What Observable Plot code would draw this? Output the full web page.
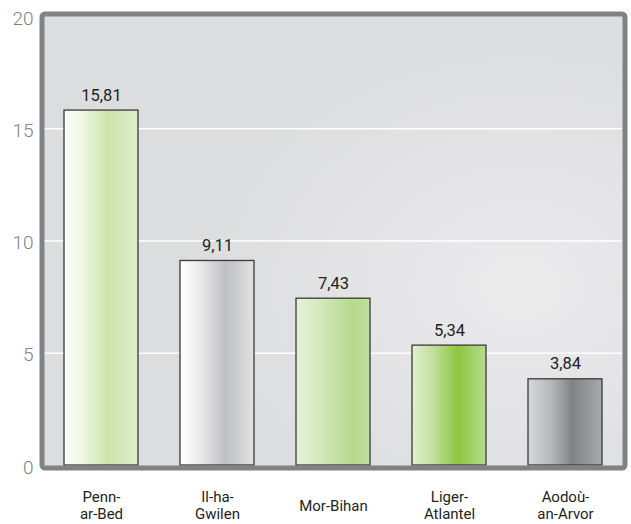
<!DOCTYPE html>
<html><head><meta charset="utf-8">
<script src="https://cdn.jsdelivr.net/npm/d3@7"></script>
<script src="https://cdn.jsdelivr.net/npm/@observablehq/plot@0.6"></script>
<style>body{margin:0;background:#fff;} #chart svg{display:block;}</style>
</head><body><div id="chart"></div>
<script>
const categories = ["Penn-ar-Bed", "Il-ha-Gwilen", "Mor-Bihan", "Liger-Atlantel", "Aodoù-an-Arvor"];
const tickLabels = ["Penn-\nar-Bed", "Il-ha-\nGwilen", "Mor-Bihan", "Liger-\nAtlantel", "Aodoù-\nan-Arvor"];
const values = [15.81, 9.11, 7.43, 5.34, 3.84];
const valueLabels = ["15,81", "9,11", "7,43", "5,34", "3,84"];
const yTicks = [0, 5, 10, 15, 20];

// gradient styles for each bar (offset, color)
const barGradients = [
  [[0, "#ffffff"], [0.25, "#eef6e4"], [0.6, "#cce4ab"], [1, "#e0eecd"]],
  [[0, "#ffffff"], [0.25, "#ececed"], [0.62, "#bfc0c2"], [1, "#e2e2e3"]],
  [[0, "#e7f2da"], [0.35, "#d3e8ba"], [0.75, "#b6d98c"], [1, "#c2df9f"]],
  [[0, "#e2f0d0"], [0.3, "#c0df9a"], [0.62, "#8cc63f"], [1, "#b8db8f"]],
  [[0, "#d6d7d9"], [0.3, "#b8b9bb"], [0.6, "#808285"], [1, "#a9aaac"]]
];

const data = categories.map((c, i) => ({
  region: c, value: values[i], label: valueLabels[i], grad: `url(#bar${i})`
}));

const defsMark = () => {
  const defs = d3.create("svg:defs");
  barGradients.forEach((stops, i) => {
    const g = defs.append("linearGradient").attr("id", `bar${i}`)
      .attr("x1", 0).attr("x2", 1).attr("y1", 0).attr("y2", 0);
    stops.forEach(([o, c]) => g.append("stop").attr("offset", o).attr("stop-color", c));
  });
  const bg = defs.append("radialGradient").attr("id", "bg")
    .attr("cx", 0.82).attr("cy", 0.6).attr("r", 0.55);
  bg.append("stop").attr("offset", 0).attr("stop-color", "#ebebec");
  bg.append("stop").attr("offset", 1).attr("stop-color", "#dcdddf");
  const f = defs.append("filter").attr("id", "shadow")
    .attr("x", -0.05).attr("y", -0.05).attr("width", 1.1).attr("height", 1.12);
  f.append("feDropShadow").attr("dx", 2).attr("dy", 5).attr("stdDeviation", 3)
    .attr("flood-color", "#000").attr("flood-opacity", 0.4);
  return defs.node();
};

const chart = Plot.plot({
  width: 631,
  height: 524,
  marginLeft: 44,
  marginRight: 9,
  marginTop: 16,
  marginBottom: 59,
  style: {background: "#fff", fontFamily: "Roboto, sans-serif"},
  x: {domain: categories, paddingInner: 0.362, paddingOuter: 0.164, axis: null},
  y: {domain: [0, 20], axis: null},
  color: {type: "identity"},
  marks: [
    defsMark,
    Plot.frame({fill: "url(#bg)", stroke: "none", inset: -2.5, ariaLabel: "frame-bg"}),
    Plot.gridY(yTicks.slice(1, -1), {stroke: "#ffffff", strokeOpacity: 1, strokeWidth: 1.5}),
    Plot.barY(data, {x: "region", y: "value", fill: "grad", stroke: "#3a3a3a", strokeWidth: 1.3}),
    Plot.text(data, {x: "region", y: "value", text: "label", lineAnchor: "bottom", dy: -10,
      fontSize: 16.5, fontWeight: 400, fill: "#231f20", ariaLabel: "value-labels"}),
    Plot.axisY(yTicks, {tickSize: 0, tickPadding: 11, fontSize: 19, fontWeight: 300,
      color: "#808285", dy: 2, label: null}),
    Plot.axisX({tickSize: 0, tickPadding: 40, lineAnchor: "middle", fontSize: 15, fontWeight: 400,
      color: "#231f20", lineHeight: 1.13, label: null, ariaLabel: "x-labels",
      tickFormat: (d) => tickLabels[categories.indexOf(d)]}),
    Plot.frame({fill: "none", stroke: "#808285", strokeWidth: 5, rx: 3, inset: -2.5, ariaLabel: "frame-border"})
  ]
});

d3.select(chart).select('g[aria-label="frame-bg"]').attr("filter", "url(#shadow)");
d3.select(chart).selectAll('g[aria-label="x-labels"] text').style("letter-spacing", "0.6px");
d3.select(chart).selectAll('g[aria-label="value-labels"] text').style("letter-spacing", "0.5px");
document.getElementById("chart").appendChild(chart);
</script>
</body></html>
